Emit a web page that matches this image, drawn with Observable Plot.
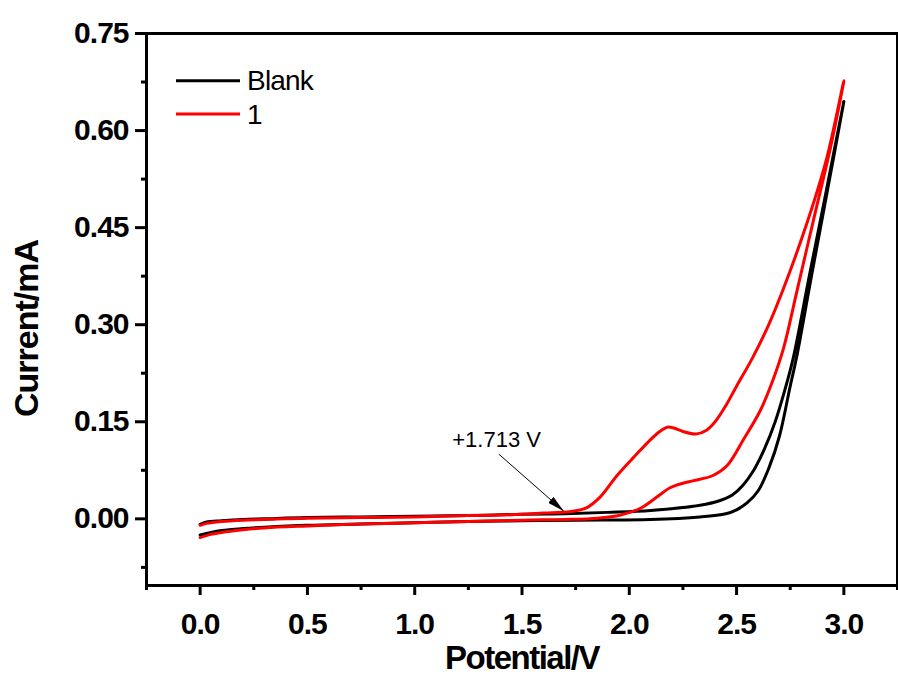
<!DOCTYPE html>
<html><head><meta charset="utf-8">
<script src="https://cdn.jsdelivr.net/npm/d3@7"></script>
<script src="https://cdn.jsdelivr.net/npm/@observablehq/plot@0.6"></script>
<style>
body{margin:0;background:#fff;}
#chart{width:898px;height:675px;}
</style></head><body><div id="chart"></div>
<script>
// Blank: forward branch (0 -> 3 V) then return branch (3 -> 0 V)
const blankPotential = [0.00,0.05,0.10,0.20,0.30,0.50,0.75,1.00,1.25,1.50,1.75,2.10,2.33,2.45,2.50,2.55,2.60,2.65,2.70,2.75,2.78,2.85,2.925,3.00,
  2.92,2.84,2.765,2.73,2.68,2.63,2.58,2.53,2.48,2.42,2.33,2.10,1.90,1.70,1.50,1.25,1.00,0.75,0.50,0.30,0.20,0.10,0.03,0.00];
const blankCurrent = [-0.025,-0.021,-0.018,-0.015,-0.013,-0.010,-0.008,-0.006,-0.004,-0.003,-0.002,-0.001,0.003,0.008,0.014,0.025,0.043,0.078,0.128,0.205,0.250,0.377,0.510,0.645,
  0.510,0.377,0.250,0.205,0.150,0.108,0.075,0.052,0.037,0.028,0.021,0.013,0.010,0.008,0.007,0.005,0.004,0.003,0.002,0.000,-0.001,-0.003,-0.005,-0.0085];
// Compound 1
const cpdPotential = [0.00,0.05,0.10,0.20,0.30,0.50,0.75,1.00,1.25,1.50,1.70,1.85,1.96,2.05,2.13,2.19,2.25,2.30,2.39,2.455,2.533,2.61,2.67,2.72,2.78,2.86,2.94,3.00,
  2.92,2.83,2.72,2.65,2.57,2.50,2.45,2.40,2.36,2.31,2.25,2.21,2.18,2.15,2.11,2.02,1.943,1.865,1.80,1.72,1.60,1.50,1.25,1.00,0.75,0.50,0.30,0.20,0.10,0.03,0.00];
const cpdCurrent = [-0.029,-0.024,-0.021,-0.017,-0.014,-0.011,-0.008,-0.006,-0.004,-0.002,-0.001,0.001,0.006,0.016,0.034,0.048,0.055,0.059,0.067,0.082,0.123,0.167,0.215,0.265,0.350,0.464,0.577,0.677,
  0.557,0.459,0.357,0.300,0.246,0.205,0.175,0.150,0.137,0.131,0.135,0.140,0.142,0.137,0.126,0.095,0.067,0.034,0.017,0.011,0.009,0.007,0.005,0.003,0.002,0.001,-0.001,-0.002,-0.004,-0.007,-0.010];

const seriesNames = ["Blank", "1"];
const seriesColors = ["#000000", "#ff0000"];
const xTickValues = [0, 0.5, 1, 1.5, 2, 2.5, 3];
const xMinorTicks = [-0.25, 0.25, 0.75, 1.25, 1.75, 2.25, 2.75, 3.25];
const yTickValues = [0, 0.15, 0.30, 0.45, 0.60, 0.75];
const yMinorTicks = [-0.075, 0.075, 0.225, 0.375, 0.525, 0.675];
const xLabel = "Potential/V";
const yLabel = "Current/mA";
const annotationLabel = [{x: 1.175, y: 0.1105, text: "+1.713 V"}];
const annotationArrow = [{x1: 1.392, y1: 0.100, x2: 1.694, y2: 0.012}];

const rows = [];
blankPotential.forEach((v, k) => rows.push({series: "Blank", v, c: blankCurrent[k]}));
cpdPotential.forEach((v, k) => rows.push({series: "1", v, c: cpdCurrent[k]}));

const font = '"Liberation Sans", Arial, Helvetica, sans-serif';
const W = 898, H = 675, ML = 146, MR = 1, MT = 33, MB = 90;

const chart = Plot.plot({
  width: W, height: H,
  marginLeft: ML, marginRight: MR, marginTop: MT, marginBottom: MB,
  style: {fontFamily: font, background: "#fff", color: "#000", overflow: "visible"},
  x: {domain: [-0.25, 3.25]},
  y: {domain: [-0.103, 0.75]},
  color: {domain: seriesNames, range: seriesColors},
  marks: [
    Plot.axisX({ticks: xMinorTicks, tickSize: 5, strokeWidth: 3, tickFormat: () => "", label: null}),
    Plot.axisX({ticks: xTickValues, tickSize: 10, strokeWidth: 3, tickPadding: 17, tickFormat: d => d.toFixed(1), fontSize: 30, fontWeight: "bold", label: null}),
    Plot.axisY({ticks: yMinorTicks, tickSize: 5, strokeWidth: 3, tickFormat: () => "", label: null}),
    Plot.axisY({ticks: yTickValues, tickSize: 11, strokeWidth: 3, tickPadding: 7, tickFormat: d => d.toFixed(2), fontSize: 30, fontWeight: "bold", label: null}),
    Plot.line(rows, {x: "v", y: "c", z: "series", stroke: "series", strokeWidth: 3, curve: "catmull-rom"}),
    Plot.frame({stroke: "#000", strokeWidth: 3}),
    Plot.link(annotationArrow, {x1: "x1", y1: "y1", x2: "x2", y2: "y2", stroke: "#000", strokeWidth: 1}),
    Plot.text(annotationLabel, {x: "x", y: "y", text: "text", textAnchor: "start", lineAnchor: "bottom", fontSize: 22, fill: "#000"}),
    Plot.text([xLabel], {text: d => d, frameAnchor: "bottom", textAnchor: "middle", dy: 83, lineAnchor: "bottom", fontSize: 33, fontWeight: "bold", fill: "#000"}),
    Plot.text([yLabel], {text: d => d, frameAnchor: "left", textAnchor: "middle", lineAnchor: "middle", dx: -119, dy: 19, rotate: -90, fontSize: 34, fontWeight: "bold", fill: "#000"})
  ]
});
document.getElementById("chart").appendChild(chart);

const svg = d3.select(chart);
svg.selectAll('g[aria-label="x-axis tick label"] text, g[aria-label="y-axis tick label"] text').attr("letter-spacing", "-1");
svg.selectAll('g[aria-label="text"] text').each(function() {
  const t = d3.select(this).text();
  if (t === xLabel) d3.select(this).attr("letter-spacing", "-1.5");
  if (t === yLabel) d3.select(this).attr("letter-spacing", "-1");
});

// filled arrow head on the annotation link
const defs = svg.append("defs");
defs.append("marker").attr("id", "ahead").attr("viewBox", "0 0 10 10")
  .attr("refX", 10).attr("refY", 5).attr("markerWidth", 17).attr("markerHeight", 8)
  .attr("markerUnits", "userSpaceOnUse").attr("orient", "auto").attr("preserveAspectRatio", "none")
  .append("path").attr("d", "M0,0L10,5L0,10Z").attr("fill", "#000");
svg.selectAll('g[aria-label="link"] path').attr("marker-end", "url(#ahead)");

// legend inside the frame
const lg = svg.append("g").attr("font-family", font).attr("text-anchor", "start");
seriesNames.forEach((name, k) => {
  const yy = 80.7 + k * 33.3;
  lg.append("line").attr("x1", ML + 30).attr("x2", ML + 94).attr("y1", yy).attr("y2", yy)
    .attr("stroke", seriesColors[k]).attr("stroke-width", 3);
  lg.append("text").attr("x", ML + 101).attr("y", yy + 9.5).attr("font-size", 28)
    .attr("text-anchor", "start").attr("letter-spacing", "-0.8").attr("fill", "#000").text(name);
});
</script></body></html>
